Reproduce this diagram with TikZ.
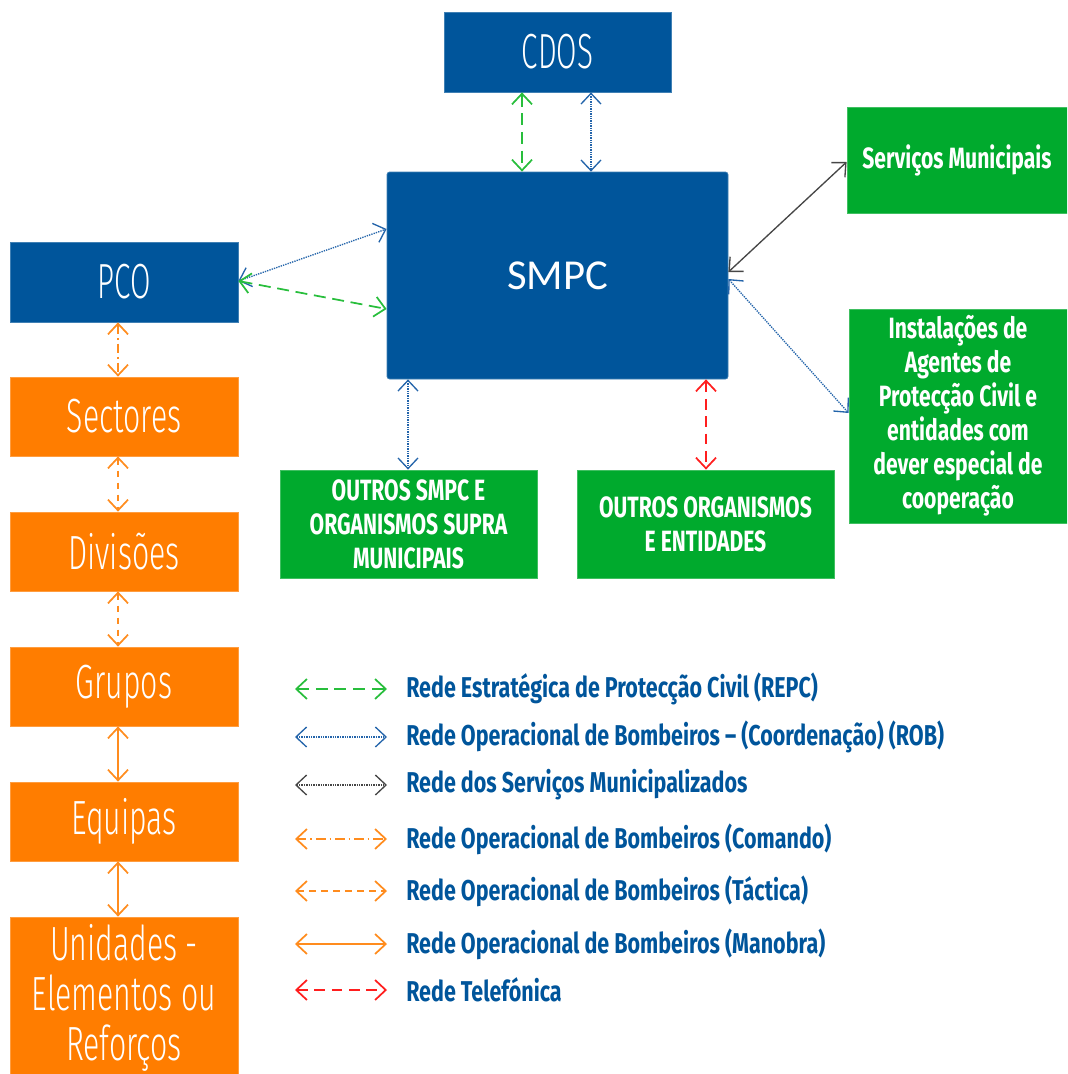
\documentclass[tikz,border=0pt]{standalone}
\usepackage{fontspec}
\setmainfont{Fira Sans}
\newfontfamily\thinf[FakeStretch=0.6,UprightFont=* Light]{Fira Sans}
\newfontfamily\thino[FakeStretch=0.63,UprightFont=* Light]{Fira Sans}
\newfontfamily\condf[FakeStretch=0.72]{Fira Sans}
\newfontfamily\legf[FakeStretch=0.75]{Fira Sans}
\newfontfamily\calib{Carlito}
\usetikzlibrary{arrows.meta}
\definecolor{dblue}{RGB}{0,85,155}
\definecolor{mgreen}{RGB}{0,170,45}
\definecolor{orng}{RGB}{255,125,0}
\definecolor{lgreen}{RGB}{40,190,60}
\definecolor{lblue}{RGB}{35,100,170}
\definecolor{dgray}{RGB}{70,70,70}
\definecolor{lred}{RGB}{255,30,30}
\definecolor{lorng}{RGB}{255,140,30}
\tikzset{
  lnk/.style={{Straight Barb[length=8pt,width=15pt]}-{Straight Barb[length=8pt,width=15pt]}, line width=1.3pt},
  repc/.style={lnk, lgreen, dash pattern=on 9pt off 5pt},
  rob/.style={lnk, lblue, line width=1pt, dash pattern=on 1pt off 0.8pt},
  rsm/.style={lnk, dgray, line width=1pt, dash pattern=on 1pt off 0.8pt},
  rsmsolid/.style={lnk, dgray, line width=1pt},
  comando/.style={lnk, lorng, dash pattern=on 7pt off 3pt on 1.3pt off 3pt},
  tactica/.style={lnk, lorng, dash pattern=on 5pt off 4pt},
  manobra/.style={lnk, lorng},
  tel/.style={lnk, lred, dash pattern=on 8pt off 5pt},
  boxbase/.style={inner sep=0pt, align=center, text=white, line width=0.6pt},
  bbox/.style={boxbase, fill=dblue, draw=dblue!75!white},
  gbox/.style={boxbase, fill=mgreen, draw=mgreen!75!white},
  obox/.style={boxbase, fill=orng, draw=orng!75!white, minimum width=171pt, minimum height=59.25pt,
     font=\thino\fontsize{36}{37.5}\selectfont},
  gfont/.style={font=\condf\bfseries\fontsize{22}{25.5}\selectfont},
  leg/.style={anchor=west, inner sep=0pt, text=dblue, font=\legf\bfseries\fontsize{21.5}{24}\selectfont}
}
\begin{document}
\begin{tikzpicture}[x=0.75pt,y=-0.75pt]
\useasboundingbox (0,0) rectangle (1067,1074);
\clip (0,0) rectangle (1067,1074);
% blue boxes
\node[bbox, minimum width=170.25pt, minimum height=60pt, font=\thinf\fontsize{37}{40}\selectfont] (cdos) at (557.5,52) {CDOS};
\node[bbox, rounded corners=2pt, minimum width=255.75pt, minimum height=155.25pt, font=\calib\fontsize{32}{36}\selectfont] (smpc) at (557.5,275.5) {SMPC};
\node[bbox, minimum width=171pt, minimum height=60pt, font=\thinf\fontsize{37}{40}\selectfont] (pco) at (124,282) {PCO};
% green boxes
\node[gbox, gfont, minimum width=165pt, minimum height=79.5pt] (serv) at (957,160) {Serviços Municipais};
\node[gbox, gfont, minimum width=163.5pt, minimum height=160.5pt] (inst) at (958,416) {Instalações de\\Agentes de\\Protecção Civil e\\entidades com\\dever especial de\\cooperação};
\node[gbox, gfont, minimum width=192.75pt, minimum height=81pt] (osmpc) at (408.5,524) {OUTROS SMPC E\\ORGANISMOS SUPRA\\MUNICIPAIS};
\node[gbox, gfont, minimum width=192.75pt, minimum height=81pt] (oorg) at (705.5,524) {OUTROS ORGANISMOS\\E ENTIDADES};
% orange column
\node[obox] (sec) at (124,416.5) {Sectores};
\node[obox] (div) at (124,551.5) {Divisões};
\node[obox] (grp) at (124,686.5) {Grupos};
\node[obox] (eq) at (124,821.5) {Equipas};
\node[obox, minimum height=121.5pt] (uni) at (124,998) {Unidades -\\Elementos ou\\Reforços};
% connectors
\draw[repc] (cdos.south -| 522,0) -- (smpc.north -| 522,0);
\draw[rob] (cdos.south -| 591,0) -- (smpc.north -| 591,0);
\draw[rob] (pco.east |- 0,281) -- (smpc.west |- 0,229);
\draw[repc] (pco.east |- 0,281) -- (smpc.west |- 0,309);
\draw[rsmsolid] (smpc.east |- 0,272) -- (serv.west |- 0,162);
\draw[rob] (smpc.east |- 0,279) -- (inst.west |- 0,413);
\draw[rob] (smpc.south -| 408,0) -- (osmpc.north -| 408,0);
\draw[tel] (smpc.south -| 706,0) -- (oorg.north -| 706,0);
\draw[comando] (pco.south -| 118,0) -- (sec.north -| 118,0);
\draw[tactica] (sec.south -| 118,0) -- (div.north -| 118,0);
\draw[tactica] (div.south -| 118,0) -- (grp.north -| 118,0);
\draw[manobra] (grp.south -| 118,0) -- (eq.north -| 118,0);
\draw[manobra] (eq.south -| 118,0) -- (uni.north -| 118,0);
% legend
\foreach \i/\y in {1/689,2/737,3/785,4/839,5/891,6/944,7/990}{
  \coordinate (la\i) at (295,\y);
  \coordinate (lb\i) at (387,\y);
}
\draw[repc] (la1) -- (lb1);
\draw[rob] (la2) -- (lb2);
\draw[rsm] (la3) -- (lb3);
\draw[comando] (la4) -- (lb4);
\draw[tactica] (la5) -- (lb5);
\draw[manobra] (la6) -- (lb6);
\draw[tel] (la7) -- (lb7);
\node[leg] (t1) at (406,689) {Rede Estratégica de Protecção Civil (REPC)};
\node[leg] (t2) at (406,737) {Rede Operacional de Bombeiros – (Coordenação) (ROB)};
\node[leg] (t3) at (406,785) {Rede dos Serviços Municipalizados};
\node[leg] (t4) at (406,839) {Rede Operacional de Bombeiros (Comando)};
\node[leg] (t5) at (406,891) {Rede Operacional de Bombeiros (Táctica)};
\node[leg] (t6) at (406,944) {Rede Operacional de Bombeiros (Manobra)};
\node[leg] (t7) at (406,990) {Rede Telefónica};
\end{tikzpicture}
\end{document}
